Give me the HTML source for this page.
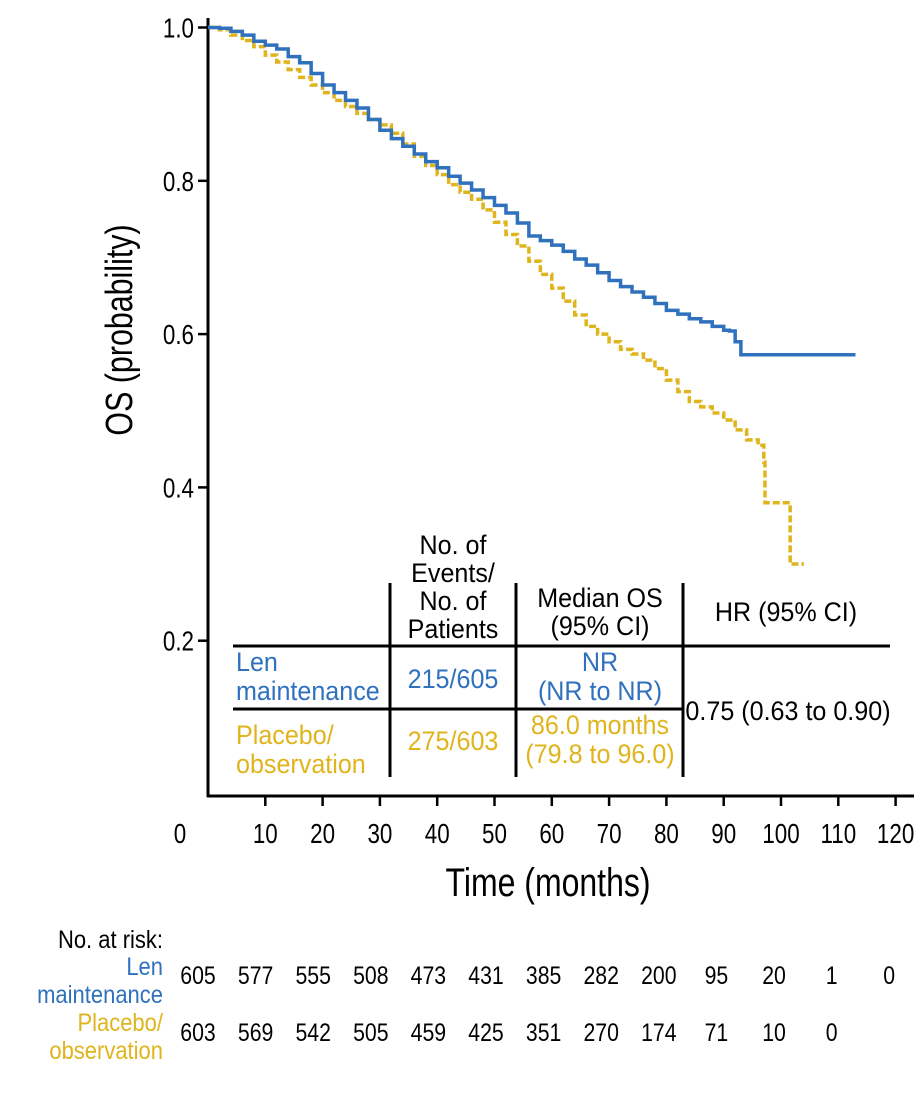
<!DOCTYPE html>
<html><head><meta charset="utf-8">
<style>
body{margin:0;background:#fff;}
svg text{font-family:"Liberation Sans",sans-serif;}
</style></head>
<body>
<svg id="chart" width="924" height="1090" xmlns="http://www.w3.org/2000/svg"></svg>
<script>
const xTicks=[0,10,20,30,40,50,60,70,80,90,100,110,120];
const yTicks=[0.2,0.4,0.6,0.8,1.0];
const lenT=[0,2,4,6,8,10,12,14,16,18,20,22,24,26,28,30,32,34,36,38,40,42,44,46,48,50,52,54,56,58,60,62,64,66,68,70,72,74,76,78,80,82,84,86,88,90,91,92,93,96,100,105,113];
const lenS=[1,0.999,0.995,0.99,0.982,0.977,0.972,0.962,0.954,0.94,0.925,0.915,0.905,0.895,0.88,0.866,0.855,0.845,0.835,0.825,0.817,0.806,0.797,0.788,0.778,0.768,0.758,0.745,0.728,0.722,0.716,0.708,0.698,0.69,0.68,0.67,0.662,0.655,0.648,0.64,0.631,0.626,0.62,0.616,0.61,0.605,0.604,0.59,0.573,0.573,0.573,0.573,0.573];
const plaT=[0,2,4,6,8,10,12,14,16,18,20,22,24,26,28,30,32,34,36,38,40,42,44,46,48,50,52,54,56,58,60,62,64,66,68,70,72,74,76,78,80,82,84,86,88,90,92,94,96,97,97.2,101.6,104];
const plaS=[1,0.997,0.99,0.983,0.975,0.964,0.955,0.945,0.935,0.925,0.915,0.905,0.897,0.888,0.88,0.873,0.862,0.848,0.832,0.82,0.808,0.795,0.785,0.776,0.762,0.746,0.73,0.715,0.695,0.678,0.66,0.643,0.625,0.61,0.6,0.59,0.58,0.574,0.566,0.555,0.54,0.525,0.512,0.505,0.497,0.488,0.475,0.462,0.455,0.433,0.38,0.30,0.30];
const lenRisk=[605,577,555,508,473,431,385,282,200,95,20,1,0];
const plaRisk=[603,569,542,505,459,425,351,270,174,71,10,0];
const X0=208,XW=57.3,Y0=794,YH=766.5;
const sx=t=>X0+t*XW/10, sy=s=>Y0-s*YH;
const svg=document.getElementById('chart');
const NS='http://www.w3.org/2000/svg';
function mk(tag,attrs,txt){const e=document.createElementNS(NS,tag);for(const k in attrs)e.setAttribute(k,attrs[k]);if(txt!==undefined)e.textContent=txt;svg.appendChild(e);return e;}
function tx(x,y,s,size,anchor,fill,sc){const a={x:0,y:0,'text-anchor':anchor,'font-size':size,fill:fill||'#000',transform:'translate('+x+','+y+') scale('+(sc||0.8)+',1)'};return mk('text',a,s);}
const BLUE='#2f71bd',YEL='#dfb41c';
let e;
e=mk('line',{x1:208,y1:18,x2:208,y2:797,stroke:'#000','stroke-width':3});


e=mk('line',{x1:207,y1:796,x2:914,y2:796,stroke:'#000','stroke-width':3});


yTicks.forEach(v=>{
 e=mk('line',{x1:198,y1:sy(v),x2:208,y2:sy(v),stroke:'#000','stroke-width':2.5});
 
 
 e=tx(194,sy(v)+10,v.toFixed(1),28,'end');
 
 
});
xTicks.forEach(v=>{
 if(v>0){e=mk('line',{x1:sx(v),y1:796,x2:sx(v),y2:806,stroke:'#000','stroke-width':2.5});
 
 }
 e=tx(v===0?180:sx(v),843,String(v),28,'middle');
 
 
});
e=tx(548,896,'Time (months)',40,'middle');


e=tx(132,330,'OS (probability)',38,'middle');
e.setAttribute('transform','translate(132,330) rotate(-90) scale(0.8,1)');


function stepPath(T,S){let d='M'+sx(T[0])+','+sy(S[0]);for(let i=1;i<T.length;i++){d+=' L'+sx(T[i])+','+sy(S[i-1])+' L'+sx(T[i])+','+sy(S[i]);}return d;}
e=mk('path',{d:stepPath(plaT,plaS),fill:'none',stroke:YEL,'stroke-width':3.5,'stroke-dasharray':'7,3'});


e=mk('path',{d:stepPath(lenT,lenS),fill:'none',stroke:BLUE,'stroke-width':3.5});


[[233,646,890,646],[233,709,683,709],[390,583,390,777],[516,583,516,777],[683,583,683,777]].forEach(l=>{
 e=mk('line',{x1:l[0],y1:l[1],x2:l[2],y2:l[3],stroke:'#000','stroke-width':3});
 
 
});
const cells=[
 [453,554,'No. of','#000','middle'],[453,582,'Events/','#000','middle'],[453,610,'No. of','#000','middle'],[453,638,'Patients','#000','middle'],
 [600,607,'Median OS','#000','middle'],[600,635,'(95% CI)','#000','middle'],[786,621,'HR (95% CI)','#000','middle'],
 [236,671,'Len',BLUE,'start'],[236,700,'maintenance',BLUE,'start'],[453,688,'215/605',BLUE,'middle'],
 [600,671,'NR',BLUE,'middle'],[600,700,'(NR to NR)',BLUE,'middle'],
 [236,744,'Placebo/',YEL,'start'],[236,773,'observation',YEL,'start'],[453,750,'275/603',YEL,'middle'],
 [600,734,'86.0 months',YEL,'middle'],[600,763,'(79.8 to 96.0)',YEL,'middle'],[788,720,'0.75 (0.63 to 0.90)','#000','middle']];
cells.forEach(c=>{e=tx(c[0],c[1],c[2],27,c[4],c[3],0.93);
 
 });
[[163,948,'No. at risk:','#000'],[163,975,'Len',BLUE],[163,1003,'maintenance',BLUE],[163,1031,'Placebo/',YEL],[163,1059,'observation',YEL]].forEach(c=>{
 e=tx(c[0],c[1],c[2],25,'end',c[3],0.88);
 
 });
const riskX=i=>198+i*57.6;
lenRisk.forEach((v,i)=>{e=tx(riskX(i),984,String(v),25,'middle','#000',0.85);
 
 });
plaRisk.forEach((v,i)=>{e=tx(riskX(i),1041,String(v),25,'middle','#000',0.85);
 
 });
</script>
</body></html>
